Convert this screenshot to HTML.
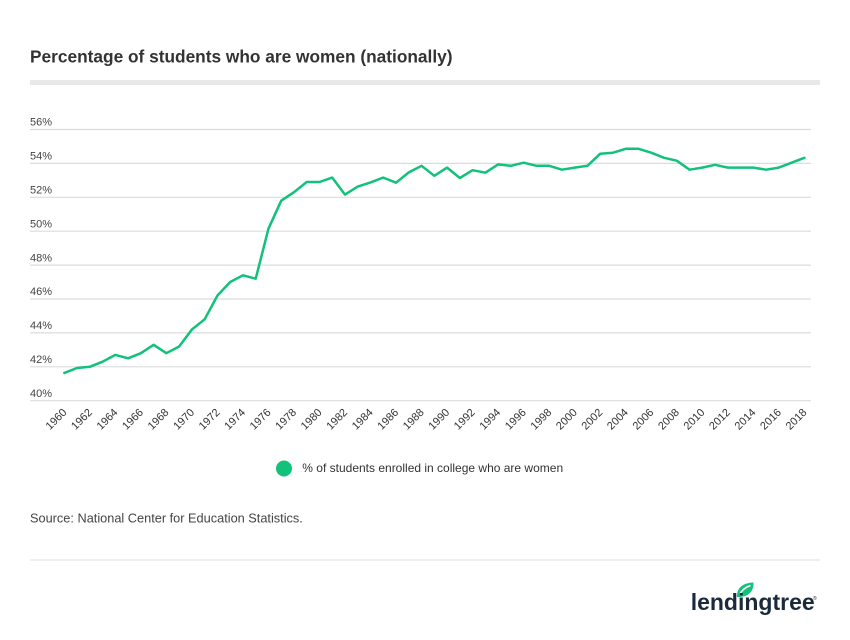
<!DOCTYPE html>
<html>
<head>
<meta charset="utf-8">
<style>
html,body{margin:0;padding:0;background:#fff;}
svg{display:block;}
</style>
</head>
<body>
<svg width="850" height="640" viewBox="0 0 850 640" xmlns="http://www.w3.org/2000/svg" font-family="'Liberation Sans', sans-serif">
<rect width="850" height="640" fill="#fff"/>
<text x="30" y="62.7" font-size="17.3" font-weight="bold" fill="#333">Percentage of students who are women (nationally)</text>
<rect x="30" y="80" width="790" height="5" fill="#e8e8e8"/>

<g stroke="#dcdcdc" stroke-width="1.2">
<line x1="30" y1="129.5" x2="811" y2="129.5"/>
<line x1="30" y1="163.4" x2="811" y2="163.4"/>
<line x1="30" y1="197.3" x2="811" y2="197.3"/>
<line x1="30" y1="231.2" x2="811" y2="231.2"/>
<line x1="30" y1="265.1" x2="811" y2="265.1"/>
<line x1="30" y1="299.0" x2="811" y2="299.0"/>
<line x1="30" y1="332.9" x2="811" y2="332.9"/>
<line x1="30" y1="366.8" x2="811" y2="366.8"/>
<line x1="30" y1="400.7" x2="811" y2="400.7"/>
</g>
<g font-size="11" fill="#444">
<text x="30" y="125.7">56%</text>
<text x="30" y="159.6">54%</text>
<text x="30" y="193.5">52%</text>
<text x="30" y="227.4">50%</text>
<text x="30" y="261.3">48%</text>
<text x="30" y="295.2">46%</text>
<text x="30" y="329.1">44%</text>
<text x="30" y="363.0">42%</text>
<text x="30" y="396.9">40%</text>
</g>

<polyline fill="none" stroke="#12c17a" stroke-width="2.5" stroke-linejoin="round" stroke-linecap="round" points="64.3,372.9 77.06,368.0 89.82,366.8 102.58,361.7 115.34,354.9 128.1,358.3 140.86,353.2 153.62,344.8 166.38,353.2 179.14,346.5 191.9,329.5 204.66,319.3 217.42,295.6 230.18,282.0 242.94,275.3 255.7,278.7 268.46,228.7 281.22,200.7 293.98,192.2 306.74,182.0 319.5,182.0 332.26,177.6 345.02,194.6 357.78,186.6 370.54,182.4 383.3,177.6 396.06,182.7 408.82,172.4 421.58,165.8 434.34,175.8 447.1,167.6 459.86,178.0 472.62,170.2 485.38,172.7 498.14,164.4 510.9,165.8 523.66,162.7 536.42,165.8 549.18,165.8 561.94,169.7 574.7,167.6 587.46,165.8 600.22,153.7 612.98,152.7 625.74,148.8 638.5,148.8 651.26,152.7 664.02,157.8 676.78,160.7 689.54,169.7 702.3,167.6 715.06,164.8 727.82,167.6 740.58,167.6 753.34,167.6 766.1,169.7 778.86,167.6 791.62,162.7 804.38,157.8"/>

<g font-size="11" fill="#333" text-anchor="end">
<text transform="translate(67.3,413) rotate(-45)">1960</text>
<text transform="translate(92.82,413) rotate(-45)">1962</text>
<text transform="translate(118.34,413) rotate(-45)">1964</text>
<text transform="translate(143.86,413) rotate(-45)">1966</text>
<text transform="translate(169.38,413) rotate(-45)">1968</text>
<text transform="translate(194.9,413) rotate(-45)">1970</text>
<text transform="translate(220.42,413) rotate(-45)">1972</text>
<text transform="translate(245.94,413) rotate(-45)">1974</text>
<text transform="translate(271.46,413) rotate(-45)">1976</text>
<text transform="translate(296.98,413) rotate(-45)">1978</text>
<text transform="translate(322.5,413) rotate(-45)">1980</text>
<text transform="translate(348.02,413) rotate(-45)">1982</text>
<text transform="translate(373.54,413) rotate(-45)">1984</text>
<text transform="translate(399.06,413) rotate(-45)">1986</text>
<text transform="translate(424.58,413) rotate(-45)">1988</text>
<text transform="translate(450.1,413) rotate(-45)">1990</text>
<text transform="translate(475.62,413) rotate(-45)">1992</text>
<text transform="translate(501.14,413) rotate(-45)">1994</text>
<text transform="translate(526.66,413) rotate(-45)">1996</text>
<text transform="translate(552.18,413) rotate(-45)">1998</text>
<text transform="translate(577.7,413) rotate(-45)">2000</text>
<text transform="translate(603.22,413) rotate(-45)">2002</text>
<text transform="translate(628.74,413) rotate(-45)">2004</text>
<text transform="translate(654.26,413) rotate(-45)">2006</text>
<text transform="translate(679.78,413) rotate(-45)">2008</text>
<text transform="translate(705.3,413) rotate(-45)">2010</text>
<text transform="translate(730.82,413) rotate(-45)">2012</text>
<text transform="translate(756.34,413) rotate(-45)">2014</text>
<text transform="translate(781.86,413) rotate(-45)">2016</text>
<text transform="translate(807.38,413) rotate(-45)">2018</text>
</g>

<circle cx="284" cy="468.5" r="8" fill="#12c17a"/>
<text x="302.3" y="472" font-size="12" fill="#333">% of students enrolled in college who are women</text>

<text x="30" y="522.7" font-size="12.75" fill="#444">Source: National Center for Education Statistics.</text>
<line x1="30" y1="560" x2="820" y2="560" stroke="#dedede" stroke-width="1"/>

<path d="M737,597 C736.5,588 742.5,583 753.5,582.5 C754,591.5 748,597.5 737,597 Z" fill="#12c17a"/>
<path d="M739.5,594.5 C742,590 746,587 750.5,585.5" fill="none" stroke="#fff" stroke-width="1.6"/>
<text x="690.7" y="610" font-size="23" font-weight="bold" fill="#1b2a3a">lendingtree</text>
<text x="813" y="600" font-size="5" fill="#1b2a3a">®</text>
</svg>
</body>
</html>
